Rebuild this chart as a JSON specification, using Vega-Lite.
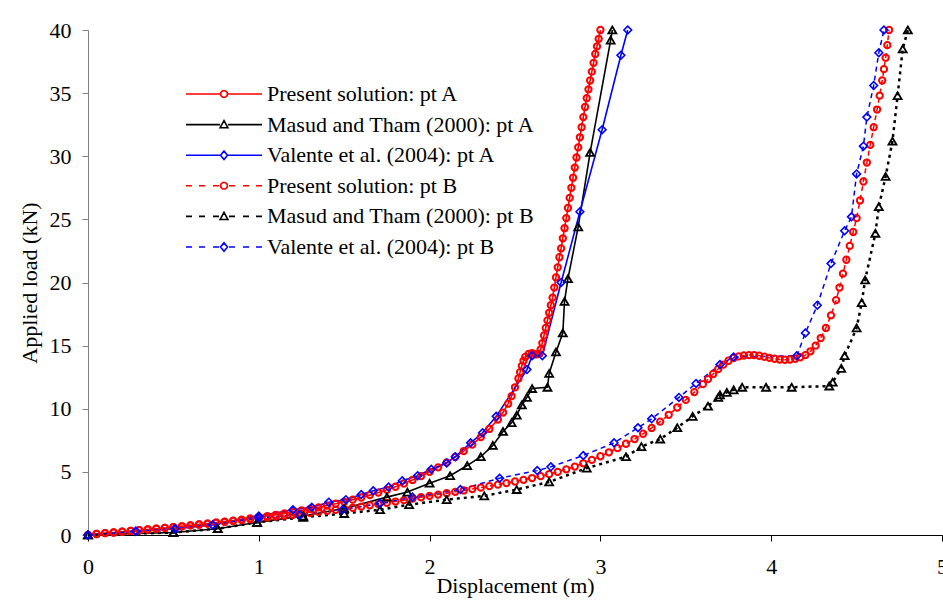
{
 "$schema": "https://vega.github.io/schema/vega-lite/v6.json",
 "width": 854,
 "height": 505,
 "autosize": {"type": "none"},
 "padding": {"left": 88, "top": 30, "right": 1, "bottom": 73},
 "background": "white",
 "config": {
  "view": {"stroke": null},
  "font": "Liberation Serif",
  "axis": {"grid": false, "labelFont": "Liberation Serif", "titleFont": "Liberation Serif", "labelColor": "black", "titleColor": "black", "labelFontSize": 22, "titleFontSize": 22, "titleFontWeight": "normal", "labelFlush": false, "labelOverlap": false}
 },
 "datasets": {
  "d": [
   {"s":"PA","x":0,"y":0},{"s":"PA","x":0.05,"y":0.08},{"s":"PA","x":0.1,"y":0.15},{"s":"PA","x":0.15,"y":0.2},{"s":"PA","x":0.2,"y":0.26},{"s":"PA","x":0.25,"y":0.32},{"s":"PA","x":0.3,"y":0.38},{"s":"PA","x":0.35,"y":0.44},{"s":"PA","x":0.4,"y":0.5},{"s":"PA","x":0.45,"y":0.56},{"s":"PA","x":0.5,"y":0.62},{"s":"PA","x":0.55,"y":0.69},{"s":"PA","x":0.6,"y":0.76},{"s":"PA","x":0.65,"y":0.83},{"s":"PA","x":0.7,"y":0.9},{"s":"PA","x":0.75,"y":0.98},{"s":"PA","x":0.8,"y":1.06},{"s":"PA","x":0.85,"y":1.14},{"s":"PA","x":0.9,"y":1.22},{"s":"PA","x":0.95,"y":1.31},{"s":"PA","x":1.0,"y":1.4},{"s":"PA","x":1.05,"y":1.5},{"s":"PA","x":1.1,"y":1.6},{"s":"PA","x":1.15,"y":1.71},{"s":"PA","x":1.2,"y":1.82},{"s":"PA","x":1.25,"y":1.94},{"s":"PA","x":1.3,"y":2.06},{"s":"PA","x":1.35,"y":2.19},{"s":"PA","x":1.4,"y":2.33},{"s":"PA","x":1.45,"y":2.48},{"s":"PA","x":1.5,"y":2.63},{"s":"PA","x":1.55,"y":2.8},{"s":"PA","x":1.6,"y":2.97},{"s":"PA","x":1.65,"y":3.16},{"s":"PA","x":1.7,"y":3.36},{"s":"PA","x":1.75,"y":3.58},{"s":"PA","x":1.8,"y":3.82},{"s":"PA","x":1.85,"y":4.08},{"s":"PA","x":1.9,"y":4.36},{"s":"PA","x":1.95,"y":4.67},{"s":"PA","x":2.0,"y":5.0},{"s":"PA","x":2.05,"y":5.36},{"s":"PA","x":2.1,"y":5.75},{"s":"PA","x":2.15,"y":6.18},{"s":"PA","x":2.2,"y":6.65},{"s":"PA","x":2.25,"y":7.17},{"s":"PA","x":2.3,"y":7.75},{"s":"PA","x":2.35,"y":8.4},{"s":"PA","x":2.4,"y":9.15},{"s":"PA","x":2.43,"y":9.7},{"s":"PA","x":2.46,"y":10.4},{"s":"PA","x":2.48,"y":11.0},{"s":"PA","x":2.5,"y":11.7},{"s":"PA","x":2.52,"y":12.4},{"s":"PA","x":2.53,"y":12.9},{"s":"PA","x":2.54,"y":13.4},{"s":"PA","x":2.55,"y":13.8},{"s":"PA","x":2.56,"y":14.1},{"s":"PA","x":2.58,"y":14.35},{"s":"PA","x":2.6,"y":14.4},{"s":"PA","x":2.62,"y":14.3},{"s":"PA","x":2.64,"y":14.35},{"s":"PA","x":2.65,"y":14.7},{"s":"PA","x":2.66,"y":15.2},{"s":"PA","x":2.67,"y":15.8},{"s":"PA","x":2.68,"y":16.4},{"s":"PA","x":2.69,"y":17.0},{"s":"PA","x":2.7,"y":17.6},{"s":"PA","x":2.71,"y":18.2},{"s":"PA","x":2.72,"y":18.8},{"s":"PA","x":2.73,"y":19.6},{"s":"PA","x":2.74,"y":20.4},{"s":"PA","x":2.75,"y":21.2},{"s":"PA","x":2.76,"y":22.0},{"s":"PA","x":2.77,"y":22.7},{"s":"PA","x":2.78,"y":23.5},{"s":"PA","x":2.79,"y":24.3},{"s":"PA","x":2.8,"y":25.1},{"s":"PA","x":2.81,"y":25.9},{"s":"PA","x":2.82,"y":26.7},{"s":"PA","x":2.83,"y":27.5},{"s":"PA","x":2.84,"y":28.3},{"s":"PA","x":2.85,"y":29.1},{"s":"PA","x":2.86,"y":29.9},{"s":"PA","x":2.87,"y":30.7},{"s":"PA","x":2.88,"y":31.5},{"s":"PA","x":2.89,"y":32.3},{"s":"PA","x":2.9,"y":33.1},{"s":"PA","x":2.91,"y":33.9},{"s":"PA","x":2.92,"y":34.6},{"s":"PA","x":2.93,"y":35.3},{"s":"PA","x":2.94,"y":36.0},{"s":"PA","x":2.95,"y":36.7},{"s":"PA","x":2.96,"y":37.4},{"s":"PA","x":2.97,"y":38.1},{"s":"PA","x":2.98,"y":38.7},{"s":"PA","x":2.99,"y":39.3},{"s":"PA","x":3.0,"y":40.0},

   {"s":"MA","x":0,"y":0},{"s":"MA","x":0.5,"y":0.2},{"s":"MA","x":0.76,"y":0.5},{"s":"MA","x":0.99,"y":1.0},{"s":"MA","x":1.26,"y":1.5},{"s":"MA","x":1.5,"y":2.1},{"s":"MA","x":1.75,"y":3.0},{"s":"MA","x":1.87,"y":3.4},{"s":"MA","x":2.0,"y":4.1},{"s":"MA","x":2.12,"y":4.7},{"s":"MA","x":2.22,"y":5.5},{"s":"MA","x":2.3,"y":6.2},{"s":"MA","x":2.37,"y":7.1},{"s":"MA","x":2.43,"y":8.2},{"s":"MA","x":2.48,"y":8.9},{"s":"MA","x":2.51,"y":9.5},{"s":"MA","x":2.54,"y":10.3},{"s":"MA","x":2.57,"y":10.9},{"s":"MA","x":2.6,"y":11.6},{"s":"MA","x":2.69,"y":11.7},{"s":"MA","x":2.7,"y":12.8},{"s":"MA","x":2.74,"y":14.5},{"s":"MA","x":2.78,"y":16.0},{"s":"MA","x":2.79,"y":18.5},{"s":"MA","x":2.81,"y":20.3},{"s":"MA","x":2.87,"y":24.4},{"s":"MA","x":2.94,"y":30.3},{"s":"MA","x":3.06,"y":39.2},{"s":"MA","x":3.07,"y":40},

   {"s":"VA","x":0,"y":0},{"s":"VA","x":0.28,"y":0.3},{"s":"VA","x":0.51,"y":0.5},{"s":"VA","x":0.73,"y":0.8},{"s":"VA","x":1.0,"y":1.5},{"s":"VA","x":1.2,"y":2.0},{"s":"VA","x":1.31,"y":2.2},{"s":"VA","x":1.41,"y":2.6},{"s":"VA","x":1.51,"y":2.8},{"s":"VA","x":1.6,"y":3.2},{"s":"VA","x":1.67,"y":3.5},{"s":"VA","x":1.76,"y":3.8},{"s":"VA","x":1.84,"y":4.3},{"s":"VA","x":1.93,"y":4.7},{"s":"VA","x":2.01,"y":5.2},{"s":"VA","x":2.1,"y":5.7},{"s":"VA","x":2.15,"y":6.2},{"s":"VA","x":2.24,"y":7.3},{"s":"VA","x":2.31,"y":8.1},{"s":"VA","x":2.39,"y":9.4},{"s":"VA","x":2.57,"y":13.1},{"s":"VA","x":2.6,"y":14.2},{"s":"VA","x":2.66,"y":14.2},{"s":"VA","x":2.77,"y":20.0},{"s":"VA","x":2.88,"y":25.6},{"s":"VA","x":3.01,"y":32.1},{"s":"VA","x":3.12,"y":38.0},{"s":"VA","x":3.16,"y":40},

   {"s":"PB","x":0,"y":0},{"s":"PB","x":0.05,"y":0.08},{"s":"PB","x":0.1,"y":0.15},{"s":"PB","x":0.15,"y":0.2},{"s":"PB","x":0.2,"y":0.26},{"s":"PB","x":0.25,"y":0.32},{"s":"PB","x":0.3,"y":0.38},{"s":"PB","x":0.35,"y":0.44},{"s":"PB","x":0.4,"y":0.5},{"s":"PB","x":0.45,"y":0.56},{"s":"PB","x":0.5,"y":0.62},{"s":"PB","x":0.55,"y":0.69},{"s":"PB","x":0.6,"y":0.76},{"s":"PB","x":0.65,"y":0.83},{"s":"PB","x":0.7,"y":0.9},{"s":"PB","x":0.75,"y":0.97},{"s":"PB","x":0.8,"y":1.04},{"s":"PB","x":0.85,"y":1.11},{"s":"PB","x":0.9,"y":1.18},{"s":"PB","x":0.95,"y":1.25},{"s":"PB","x":1.0,"y":1.32},{"s":"PB","x":1.05,"y":1.39},{"s":"PB","x":1.1,"y":1.46},{"s":"PB","x":1.15,"y":1.53},{"s":"PB","x":1.2,"y":1.6},{"s":"PB","x":1.25,"y":1.67},{"s":"PB","x":1.3,"y":1.75},{"s":"PB","x":1.35,"y":1.83},{"s":"PB","x":1.4,"y":1.91},{"s":"PB","x":1.45,"y":1.99},{"s":"PB","x":1.5,"y":2.07},{"s":"PB","x":1.55,"y":2.16},{"s":"PB","x":1.6,"y":2.25},{"s":"PB","x":1.65,"y":2.35},{"s":"PB","x":1.7,"y":2.45},{"s":"PB","x":1.75,"y":2.55},{"s":"PB","x":1.8,"y":2.65},{"s":"PB","x":1.85,"y":2.76},{"s":"PB","x":1.9,"y":2.88},{"s":"PB","x":1.95,"y":2.99},{"s":"PB","x":2.0,"y":3.1},{"s":"PB","x":2.05,"y":3.2},{"s":"PB","x":2.1,"y":3.31},{"s":"PB","x":2.15,"y":3.42},{"s":"PB","x":2.2,"y":3.53},{"s":"PB","x":2.25,"y":3.64},{"s":"PB","x":2.3,"y":3.75},{"s":"PB","x":2.35,"y":3.87},{"s":"PB","x":2.4,"y":3.99},{"s":"PB","x":2.45,"y":4.11},{"s":"PB","x":2.5,"y":4.24},{"s":"PB","x":2.55,"y":4.37},{"s":"PB","x":2.6,"y":4.51},{"s":"PB","x":2.65,"y":4.66},{"s":"PB","x":2.7,"y":4.82},{"s":"PB","x":2.75,"y":5.0},{"s":"PB","x":2.8,"y":5.2},{"s":"PB","x":2.85,"y":5.42},{"s":"PB","x":2.9,"y":5.68},{"s":"PB","x":2.95,"y":5.95},{"s":"PB","x":3.0,"y":6.24},{"s":"PB","x":3.05,"y":6.55},{"s":"PB","x":3.1,"y":6.88},{"s":"PB","x":3.15,"y":7.23},{"s":"PB","x":3.2,"y":7.6},{"s":"PB","x":3.25,"y":8.02},{"s":"PB","x":3.3,"y":8.48},{"s":"PB","x":3.35,"y":8.98},{"s":"PB","x":3.4,"y":9.52},{"s":"PB","x":3.45,"y":10.1},{"s":"PB","x":3.5,"y":10.7},{"s":"PB","x":3.55,"y":11.32},{"s":"PB","x":3.6,"y":11.95},{"s":"PB","x":3.63,"y":12.35},{"s":"PB","x":3.66,"y":12.75},{"s":"PB","x":3.69,"y":13.15},{"s":"PB","x":3.72,"y":13.5},{"s":"PB","x":3.75,"y":13.8},{"s":"PB","x":3.78,"y":14.02},{"s":"PB","x":3.81,"y":14.15},{"s":"PB","x":3.84,"y":14.22},{"s":"PB","x":3.87,"y":14.25},{"s":"PB","x":3.9,"y":14.25},{"s":"PB","x":3.93,"y":14.2},{"s":"PB","x":3.96,"y":14.12},{"s":"PB","x":3.99,"y":14.03},{"s":"PB","x":4.02,"y":13.96},{"s":"PB","x":4.05,"y":13.9},{"s":"PB","x":4.08,"y":13.88},{"s":"PB","x":4.11,"y":13.9},{"s":"PB","x":4.14,"y":13.96},{"s":"PB","x":4.17,"y":14.08},{"s":"PB","x":4.2,"y":14.25},{"s":"PB","x":4.23,"y":14.55},{"s":"PB","x":4.26,"y":15.0},{"s":"PB","x":4.29,"y":15.6},{"s":"PB","x":4.32,"y":16.4},{"s":"PB","x":4.35,"y":17.4},{"s":"PB","x":4.38,"y":18.6},{"s":"PB","x":4.4,"y":19.6},{"s":"PB","x":4.42,"y":20.7},{"s":"PB","x":4.44,"y":21.8},{"s":"PB","x":4.46,"y":22.9},{"s":"PB","x":4.48,"y":24.0},{"s":"PB","x":4.5,"y":25.1},{"s":"PB","x":4.52,"y":26.5},{"s":"PB","x":4.54,"y":28.0},{"s":"PB","x":4.56,"y":29.5},{"s":"PB","x":4.58,"y":30.9},{"s":"PB","x":4.6,"y":32.3},{"s":"PB","x":4.62,"y":33.7},{"s":"PB","x":4.635,"y":34.8},{"s":"PB","x":4.65,"y":36.0},{"s":"PB","x":4.66,"y":36.9},{"s":"PB","x":4.67,"y":37.8},{"s":"PB","x":4.68,"y":38.8},{"s":"PB","x":4.69,"y":40},

   {"s":"MB","x":0,"y":0},{"s":"MB","x":0.5,"y":0.2},{"s":"MB","x":0.76,"y":0.5},{"s":"MB","x":0.99,"y":1.0},{"s":"MB","x":1.26,"y":1.4},{"s":"MB","x":1.5,"y":1.7},{"s":"MB","x":1.71,"y":2.0},{"s":"MB","x":1.88,"y":2.4},{"s":"MB","x":2.1,"y":2.8},{"s":"MB","x":2.32,"y":3.1},{"s":"MB","x":2.51,"y":3.6},{"s":"MB","x":2.7,"y":4.2},{"s":"MB","x":2.92,"y":5.3},{"s":"MB","x":3.15,"y":6.2},{"s":"MB","x":3.24,"y":7.0},{"s":"MB","x":3.35,"y":7.6},{"s":"MB","x":3.45,"y":8.5},{"s":"MB","x":3.54,"y":9.4},{"s":"MB","x":3.63,"y":10.2},{"s":"MB","x":3.69,"y":10.9},{"s":"MB","x":3.7,"y":11.1},{"s":"MB","x":3.74,"y":11.3},{"s":"MB","x":3.78,"y":11.5},{"s":"MB","x":3.83,"y":11.7},{"s":"MB","x":3.97,"y":11.7},{"s":"MB","x":4.12,"y":11.7},{"s":"MB","x":4.34,"y":11.8},{"s":"MB","x":4.36,"y":12.1},{"s":"MB","x":4.41,"y":13.2},{"s":"MB","x":4.43,"y":14.2},{"s":"MB","x":4.5,"y":16.4},{"s":"MB","x":4.53,"y":18.4},{"s":"MB","x":4.55,"y":20.2},{"s":"MB","x":4.61,"y":23.9},{"s":"MB","x":4.63,"y":26.0},{"s":"MB","x":4.67,"y":28.4},{"s":"MB","x":4.71,"y":31.2},{"s":"MB","x":4.74,"y":34.8},{"s":"MB","x":4.77,"y":38.5},{"s":"MB","x":4.8,"y":40},

   {"s":"VB","x":0,"y":0},{"s":"VB","x":0.28,"y":0.3},{"s":"VB","x":0.51,"y":0.5},{"s":"VB","x":0.73,"y":0.8},{"s":"VB","x":1.0,"y":1.35},{"s":"VB","x":1.24,"y":1.6},{"s":"VB","x":1.49,"y":2.0},{"s":"VB","x":1.71,"y":2.5},{"s":"VB","x":1.9,"y":3.0},{"s":"VB","x":2.18,"y":3.6},{"s":"VB","x":2.41,"y":4.5},{"s":"VB","x":2.63,"y":5.1},{"s":"VB","x":2.71,"y":5.4},{"s":"VB","x":2.9,"y":6.3},{"s":"VB","x":3.08,"y":7.3},{"s":"VB","x":3.22,"y":8.5},{"s":"VB","x":3.3,"y":9.2},{"s":"VB","x":3.46,"y":10.9},{"s":"VB","x":3.56,"y":12.0},{"s":"VB","x":3.7,"y":13.5},{"s":"VB","x":3.78,"y":14.1},{"s":"VB","x":4.15,"y":14.2},{"s":"VB","x":4.2,"y":16.0},{"s":"VB","x":4.27,"y":18.2},{"s":"VB","x":4.35,"y":21.5},{"s":"VB","x":4.43,"y":24.1},{"s":"VB","x":4.47,"y":25.2},{"s":"VB","x":4.5,"y":28.6},{"s":"VB","x":4.54,"y":30.8},{"s":"VB","x":4.56,"y":33.1},{"s":"VB","x":4.6,"y":35.6},{"s":"VB","x":4.63,"y":38.2},{"s":"VB","x":4.66,"y":40}
  ]
 },
 "data": {"name": "d"},
 "encoding": {
  "x": {"field": "x", "type": "quantitative", "scale": {"domain": [0, 5], "nice": false, "zero": false},
        "axis": {"values": [0, 1, 2, 3, 4, 5], "title": "Displacement (m)", "tickSize": 6, "labelPadding": 15, "titlePadding": -2, "domainColor": "black", "tickColor": "black", "domainWidth": 1.2}},
  "y": {"field": "y", "type": "quantitative", "scale": {"domain": [0, 40], "nice": false},
        "axis": {"values": [0, 5, 10, 15, 20, 25, 30, 35, 40], "title": "Applied load (kN)", "tickSize": 6, "labelPadding": 11, "titlePadding": 8, "domainColor": "#808080", "tickColor": "#808080"}},
  "color": {"field": "s", "type": "nominal",
   "scale": {"domain": ["PA", "MA", "VA", "PB", "MB", "VB"], "range": ["#ff0000", "#000000", "#0000ff", "#ff0000", "#000000", "#0000ff"]},
   "legend": {
    "orient": "none", "legendX": 87, "legendY": 53, "direction": "vertical", "title": null,
    "symbolSize": 100, "symbolOffset": 38, "labelOffset": 32, "rowPadding": 8.6, "padding": 0,
    "labelFont": "Liberation Serif", "labelFontSize": 22, "labelColor": "black", "labelLimit": 0,
    "symbolStrokeWidth": 1.6, "symbolOpacity": 1, "symbolFillColor": "transparent",
    "labelExpr": "datum.value==='PA'?'Present solution: pt A':datum.value==='MA'?'Masud and Tham (2000): pt A':datum.value==='VA'?'Valente et al. (2004): pt A':datum.value==='PB'?'Present solution: pt B':datum.value==='MB'?'Masud and Tham (2000): pt B':'Valente et al. (2004): pt B'"
   }
  }
 },
 "layer": [
  {"transform": [{"filter": {"field": "s", "oneOf": ["PA", "MA", "VA"]}}],
   "mark": {"type": "line", "strokeWidth": 1.6},
   "encoding": {"order": {"value": null}}},
  {"transform": [{"filter": {"field": "s", "oneOf": ["PB", "VB"]}}],
   "mark": {"type": "line", "strokeWidth": 1.5, "strokeDash": [5, 4]},
   "encoding": {"order": {"value": null}}},
  {"transform": [{"filter": {"field": "s", "equal": "MB"}}],
   "mark": {"type": "line", "strokeWidth": 2.5, "strokeDash": [3, 4]},
   "encoding": {"order": {"value": null}}},
  {"transform": [{"filter": {"field": "s", "oneOf": ["PA", "PB"]}}],
   "mark": {"type": "point", "shape": "circle", "filled": false, "opacity": 1, "size": 40, "strokeWidth": 2},
   "encoding": {}},
  {"transform": [{"filter": {"field": "s", "oneOf": ["MA", "MB"]}}],
   "mark": {"type": "point", "shape": "triangle-up", "filled": false, "opacity": 1, "size": 64, "strokeWidth": 1.8},
   "encoding": {}},
  {"transform": [{"filter": {"field": "s", "oneOf": ["VA", "VB"]}}],
   "mark": {"type": "point", "shape": "diamond", "filled": false, "opacity": 1, "size": 60, "strokeWidth": 1.6},
   "encoding": {}},
  {"transform": [{"filter": {"field": "x", "equal": 0}}],
   "mark": {"type": "point", "filled": false, "opacity": 0, "size": 100},
   "encoding": {
    "shape": {"field": "s", "type": "nominal",
     "scale": {"domain": ["PA", "MA", "VA", "PB", "MB", "VB"],
      "range": [
       "M-7.6,0H-0.8M0.8,0H7.6M0.65,0.27L0.27,0.65L-0.27,0.65L-0.65,0.27L-0.65,-0.27L-0.27,-0.65L0.27,-0.65L0.65,-0.27Z",
       "M-7.6,0H-0.8M0.8,0H7.6M0,-0.8L0.78,0.62L-0.78,0.62Z",
       "M-7.6,0H-0.8M0.8,0H7.6M0,-0.85L0.7,0L0,0.85L-0.7,0Z",
       "M-7.6,0H-6.4M-5,0H-3.8M-2.2,0H-1M1,0H2.2M3.8,0H5M6.4,0H7.6M0.65,0.27L0.27,0.65L-0.27,0.65L-0.65,0.27L-0.65,-0.27L-0.27,-0.65L0.27,-0.65L0.65,-0.27Z",
       "M-7.6,0H-6.4M-5,0H-3.8M-2.2,0H-1M1,0H2.2M3.8,0H5M6.4,0H7.6M0,-0.8L0.78,0.62L-0.78,0.62Z",
       "M-7.6,0H-6.4M-5,0H-3.8M-2.2,0H-1M1,0H2.2M3.8,0H5M6.4,0H7.6M0,-0.85L0.7,0L0,0.85L-0.7,0Z"
      ]},
     "legend": {
      "orient": "none", "legendX": 87, "legendY": 53, "direction": "vertical", "title": null,
      "symbolSize": 100, "symbolOffset": 38, "labelOffset": 32, "rowPadding": 8.6, "padding": 0,
      "labelFont": "Liberation Serif", "labelFontSize": 22, "labelColor": "black", "labelLimit": 0,
      "symbolStrokeWidth": 1.6, "symbolOpacity": 1, "symbolFillColor": "transparent",
      "labelExpr": "datum.value==='PA'?'Present solution: pt A':datum.value==='MA'?'Masud and Tham (2000): pt A':datum.value==='VA'?'Valente et al. (2004): pt A':datum.value==='PB'?'Present solution: pt B':datum.value==='MB'?'Masud and Tham (2000): pt B':'Valente et al. (2004): pt B'"
     }}
   }}
 ]
}
